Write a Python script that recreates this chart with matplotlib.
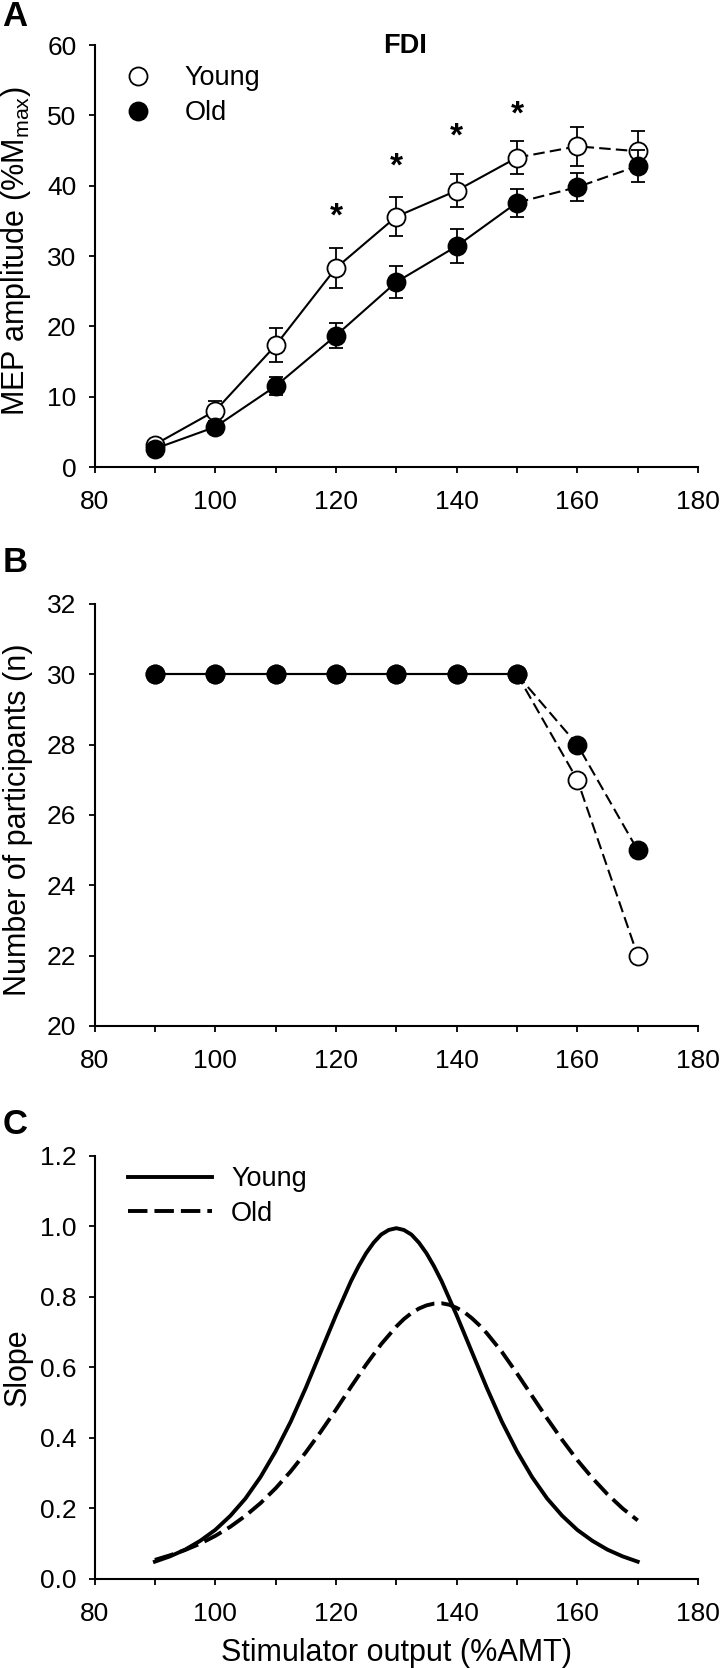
# Recruitment curves (FDI), participant counts and slope curves for young vs old

import matplotlib
matplotlib.use('Agg')
import matplotlib.pyplot as plt
import matplotlib.transforms as mtransforms
from matplotlib.lines import Line2D

plt.rcParams['font.family'] = ['Liberation Sans', 'DejaVu Sans']
plt.rcParams['mathtext.fontset'] = 'custom'
plt.rcParams['mathtext.rm'] = 'Liberation Sans'
plt.rcParams['mathtext.it'] = 'Liberation Sans:italic'
plt.rcParams['mathtext.bf'] = 'Liberation Sans:bold'

# --- Data ---
intensity = [90, 100, 110, 120, 130, 140, 150, 160, 170]  # %AMT

# Panel A: MEP amplitude (%Mmax), mean and SE
mep_young = [3.2, 8.0, 17.3, 28.3, 35.6, 39.3, 44.0, 45.6, 44.9]
mep_young_se = [0.5, 1.4, 2.4, 2.8, 2.8, 2.3, 2.4, 2.8, 2.9]
mep_old = [2.6, 5.7, 11.5, 18.7, 26.3, 31.4, 37.6, 39.8, 42.8]
mep_old_se = [0.3, 0.6, 1.3, 1.8, 2.3, 2.4, 2.0, 2.0, 2.3]

# significance markers
sig_x = [120, 130, 140, 150]
sig_y = [37.0, 44.1, 48.4, 51.5]

# Panel B: number of participants
n_young = [30, 30, 30, 30, 30, 30, 30, 27, 22]
n_old = [30, 30, 30, 30, 30, 30, 30, 28, 25]

# Panel C: slope of the fitted curves (denser near each peak)
slope_x_young = [90, 92.5, 95, 97.5, 100, 102.5, 105, 107.5, 110, 112.5, 115, 117.5,
                 120, 122.5, 123.75, 125, 126.25, 127.5, 128.75, 130, 131.25, 132.5,
                 133.75, 135, 136.25, 137.5, 140, 142.5, 145, 147.5, 150, 152.5, 155,
                 157.5, 160, 162.5, 165, 167.5, 170]
slope_young = [0.049, 0.064, 0.083, 0.108, 0.139, 0.179, 0.228, 0.289, 0.362, 0.446,
               0.542, 0.645, 0.748, 0.845, 0.887, 0.924, 0.954, 0.977, 0.990, 0.995,
               0.990, 0.977, 0.954, 0.924, 0.887, 0.845, 0.748, 0.645, 0.542, 0.446,
               0.362, 0.289, 0.228, 0.179, 0.139, 0.108, 0.083, 0.064, 0.049]
slope_x_old = [90, 92.5, 95, 97.5, 100, 102.5, 105, 107.5, 110, 112.5, 115, 117.5,
               120, 122.5, 125, 127.5, 130, 131.25, 132.5, 133.75, 135, 136.25, 137.5,
               138.75, 140, 141.25, 142.5, 143.75, 145, 147.5, 150, 152.5, 155, 157.5,
               160, 162.5, 165, 167.5, 170]
slope_old = [0.054, 0.067, 0.082, 0.100, 0.122, 0.148, 0.179, 0.215, 0.257, 0.305,
             0.359, 0.418, 0.480, 0.545, 0.608, 0.666, 0.716, 0.737, 0.754, 0.767,
             0.776, 0.781, 0.782, 0.778, 0.769, 0.757, 0.740, 0.720, 0.697, 0.644,
             0.583, 0.519, 0.455, 0.394, 0.337, 0.286, 0.240, 0.200, 0.166]

# index where the solid segment ends and the dashed segment begins (150 %AMT)
split = intensity.index(150)

TICK_FS = 19
LABEL_FS = 22
LEGEND_FS = 19.5
MS = 13
LW = 1.5


def style_axes(ax, ylim, yticks):
    ax.spines[['top', 'right']].set_visible(False)
    for s in ['left', 'bottom']:
        ax.spines[s].set_linewidth(1.5)
    ax.set_xlim(80, 180)
    ax.set_xticks(range(80, 181, 20))
    ax.set_xticks(range(90, 180, 20), minor=True)
    ax.set_ylim(*ylim)
    ax.set_yticks(yticks)
    ax.tick_params(which='both', direction='out', length=4, width=1.3,
                   labelsize=TICK_FS, colors='black')
    ax.tick_params(axis='x', which='both', pad=12.5)
    ax.tick_params(axis='y', which='both', pad=9)


def two_part_line(ax, x, y, z):
    ax.plot(x[:split + 1], y[:split + 1], color='black', lw=LW, zorder=z)
    ax.plot(x[split:], y[split:], color='black', lw=LW, dashes=(5.5, 2.5), zorder=z)


fig = plt.figure(figsize=(7.2, 16.68), dpi=100)
left, width, height = 0.1313, 0.8382, 0.2530
axA = fig.add_axes([left, 0.7200, width, height])
axB = fig.add_axes([left, 0.3849, width, height])
axC = fig.add_axes([left, 0.0534, width, 0.2536])

# --- Panel A ---
two_part_line(axA, intensity, mep_young, 2)
axA.errorbar(intensity, mep_young, yerr=mep_young_se, fmt='o', ms=MS, mfc='white',
             mec='black', mew=1.3, ecolor='black', elinewidth=1.3, capsize=5,
             capthick=1.3, zorder=3, clip_on=False)
two_part_line(axA, intensity, mep_old, 4)
axA.errorbar(intensity, mep_old, yerr=mep_old_se, fmt='o', ms=MS, mfc='black',
             mec='black', mew=1.3, ecolor='black', elinewidth=1.3, capsize=5,
             capthick=1.3, zorder=5, clip_on=False)

star_tr = mtransforms.offset_copy(axA.transData, fig=fig, y=-13.5, units='points')
for sx, sy in zip(sig_x, sig_y):
    axA.text(sx, sy, '*', transform=star_tr, ha='center', va='baseline',
             fontsize=24, fontweight='bold')

axA.text(131.5, 59.9, 'FDI', ha='center', va='center', fontsize=19.5, fontweight='bold')

style_axes(axA, (0, 60), range(0, 61, 10))
axA.set_ylabel('MEP amplitude (%M$_\\mathregular{max}$)', fontsize=LABEL_FS)
axA.yaxis.set_label_coords(-0.102, 0.512)

handles = [Line2D([], [], ls='none', marker='o', ms=MS, mfc='white', mec='black', mew=1.3),
           Line2D([], [], ls='none', marker='o', ms=MS, mfc='black', mec='black', mew=1.3)]
axA.legend(handles, ['Young', 'Old'], loc='upper left', bbox_to_anchor=(0.05, 0.952),
           frameon=False, fontsize=LEGEND_FS, handlelength=1.0, handletextpad=1.2,
           labelspacing=0.33, borderpad=0, borderaxespad=0)

# --- Panel B ---
two_part_line(axB, intensity, n_young, 2)
axB.plot(intensity, n_young, 'o', ms=MS, mfc='white', mec='black', mew=1.3, zorder=3,
         clip_on=False)
two_part_line(axB, intensity, n_old, 4)
axB.plot(intensity, n_old, 'o', ms=MS, mfc='black', mec='black', mew=1.3, zorder=5,
         clip_on=False)
style_axes(axB, (20, 32), range(20, 33, 2))
axB.set_ylabel('Number of participants (n)', fontsize=LABEL_FS)
axB.yaxis.set_label_coords(-0.102, 0.488)

# --- Panel C ---
axC.plot(slope_x_young, slope_young, color='black', lw=2.8, label='Young')
axC.plot(slope_x_old, slope_old, color='black', lw=2.8, dashes=(5, 1.8), label='Old')
c_ticks = [0, 0.2, 0.4, 0.6, 0.8, 1.0, 1.2]
style_axes(axC, (0, 1.2), c_ticks)
axC.set_yticklabels([f'{v:.1f}' for v in c_ticks])
axC.set_ylabel('Slope', fontsize=LABEL_FS)
axC.yaxis.set_label_coords(-0.102, 0.5)
axC.set_xlabel('Stimulator output (%AMT)', fontsize=LABEL_FS)
axC.xaxis.set_label_coords(0.5, -0.139)
axC.legend(loc='upper left', bbox_to_anchor=(0.0555, 0.975), frameon=False,
           fontsize=LEGEND_FS, handlelength=3.1, handletextpad=0.7, labelspacing=0.3,
           borderpad=0, borderaxespad=0)

# panel letters
for letter, y in [('A', 1.0), ('B', 0.6727), ('C', 0.3357)]:
    fig.text(0.003, y, letter, ha='left', va='top', fontsize=25, fontweight='bold')

fig.savefig('out.png', dpi=100)
plt.close(fig)
